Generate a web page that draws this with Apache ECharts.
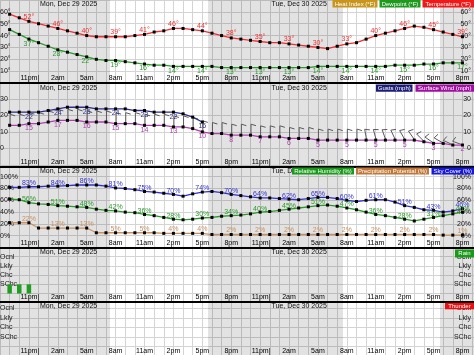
<!DOCTYPE html>
<html><head><meta charset="utf-8">
<script src="https://cdn.jsdelivr.net/npm/echarts@6/dist/echarts.min.js"></script>
<style>html,body{margin:0;padding:0;background:#fff;overflow:hidden}#c{width:474px;height:355px}</style>
</head><body><div id="c"></div>
<script>
// ---- data (hourly, 9pm Sun Dec 28 -> 8pm Tue Dec 30 2025) ----
const hours = ["9pm","10pm","11pm","12am","1am","2am","3am","4am","5am","6am","7am","8am","9am","10am","11am","12pm","1pm","2pm","3pm","4pm","5pm","6pm","7pm","8pm",
               "9pm","10pm","11pm","12am","1am","2am","3am","4am","5am","6am","7am","8am","9am","10am","11am","12pm","1pm","2pm","3pm","4pm","5pm","6pm","7pm","8pm"];
const dateHeaders = ["Mon, Dec 29 2025", "Tue, Dec 30 2025"];
const midnightIdx = [3, 27];
const nightRanges = [[-1, 10.42], [20.6, 34.6], [44.67, 48.2]];

const temperature = [58,55,52,50,48,46,44,42,40,39,39,39,39,40,41,43,44,46,46,45,44,42,40,38,
                     37,36,35,34,34,33,32,31,30,29,31,33,34,37,40,42,44,46,48,47,45,43,41,39];
const dewpoint    = [45,41,37,34,31,28,26,24,22,20,19,19,18,17,16,15,15,14,14,14,14,14,13,13,
                     13,13,13,13,13,13,13,13,14,14,14,14,14,14,14,14,15,15,15,16,16,17,17,17];
const gusts       = [22,22,22,22,23,24,25,25,25,24,24,24,24,23,23,22,22,22,21,19,16];
const surfaceWind = [14,14,15,15,16,17,17,17,16,16,16,15,15,15,14,14,14,13,13,12,10,9,9,8,
                     8,8,7,7,7,6,6,6,5,5,5,5,5,5,5,5,5,5,5,4,3,3,2,2];
const windDir     = [0,0,0,0,0,0,0,0,0,0,0,0,0,0,0,0,0,0,0,0,0,0,0,0,
                     0,0,0,0,0,0,0,0,0,0,0,0,0,350,345,340,335,330,325,315,305,300,295,290];
const skyCover    = [82,82,83,83,84,84,85,86,86,86,84,81,80,78,75,74,72,70,67,71,74,75,73,70,
                     68,66,64,64,63,62,61,63,65,65,63,60,58,60,61,61,57,51,48,44,43,40,42,46];
const relHumidity = [62,61,56,54,53,51,50,49,48,45,43,42,40,39,36,34,31,28,27,28,30,31,33,34,
                     35,37,40,41,43,45,47,49,51,52,50,47,44,40,36,34,31,28,25,28,31,34,37,40];
const precipPot   = [22,22,22,13,13,13,13,13,13,5,5,5,5,5,5,5,4,4,4,4,4,2,2,2,
                     2,2,2,2,2,2,2,2,2,2,2,2,2,2,2,2,2,2,2,2,2,1,1,1];
const rain        = [1,1,1,0,0,0,0,0,0,0,0,0,0,0,0,0,0,0,0,0,0,0,0,0,
                     0,0,0,0,0,0,0,0,0,0,0,0,0,0,0,0,0,0,0,0,0,0,0,0];
const thunder     = [0,0,0,0,0,0,0,0,0,0,0,0,0,0,0,0,0,0,0,0,0,0,0,0,
                     0,0,0,0,0,0,0,0,0,0,0,0,0,0,0,0,0,0,0,0,0,0,0,0];
const chanceLabels = ["", "SChc", "Chc", "Lkly", "Ocnl"];

// ---- layout ----
const FONT = 'Liberation Sans, Arial, sans-serif';
const chanceFmt = v => (Number.isInteger(v) && v >= 1 && v <= 4) ? chanceLabels[v] : '';
const panels = [
  {top: 0,     height: 83,   min: 0,    max: 70,   fmt: v => (v >= 10 && v <= 60 && v % 10 === 0) ? v + '°' : ''},
  {top: 83.4,  height: 83,   min: -11,  max: 39.5, fmt: v => (v >= 0 && v <= 30 && v % 10 === 0) ? String(v) : ''},
  {top: 166.7, height: 80.8, min: -20,  max: 117,  interval: 20, fmt: v => (v >= 0 && v <= 100) ? v + '%' : ''},
  {top: 247.5, height: 54.3, min: -0.9, max: 5,    fmt: chanceFmt},
  {top: 301.8, height: 53.9, min: -1,   max: 4.7,  interval: 1, fmt: chanceFmt}
];
const GRIDC = '#d4d4d4';
const BARBC = '#5a5a5a';
const xFmt = v => {
  if (!Number.isInteger(v)) return '';
  if (midnightIdx.includes(v)) return '|';
  if (v >= 0 && v < hours.length && (v - 2) % 3 === 0) return hours[v];
  return '';
};

const grid = [], xAxis = [], yAxis = [], series = [];
panels.forEach((p, g) => {
  grid.push({left: 0, right: 0, top: p.top, height: p.height, containLabel: false, outerBoundsMode: 'none'});
  xAxis.push({type: 'value', gridIndex: g, min: -1, max: 48.2, interval: 1,
    axisLine: {show: g < 4, onZero: false, lineStyle: {color: '#000', width: 2}},
    axisTick: {show: false},
    splitLine: {show: true, lineStyle: {color: GRIDC, width: 1}},
    axisLabel: {inside: true, margin: 1, fontSize: 7, color: '#000', fontFamily: FONT, formatter: xFmt, hideOverlap: false}
  });
  const yBase = {type: 'value', gridIndex: g, min: p.min, max: p.max,
    axisLine: {show: false}, axisTick: {show: false}};
  if (p.interval) yBase.interval = p.interval;
  yAxis.push(Object.assign({}, yBase, {position: 'left',
    splitLine: {show: true, lineStyle: {color: GRIDC, width: 1}},
    axisLabel: {inside: true, margin: 0, fontSize: 7, color: '#222', fontFamily: FONT, formatter: p.fmt}}));
  yAxis.push(Object.assign({}, yBase, {position: 'right',
    splitLine: {show: false},
    axisLabel: {inside: true, margin: 3, fontSize: 7, color: '#222', fontFamily: FONT, formatter: p.fmt}}));
  // night shading
  series.push({type: 'custom', xAxisIndex: g, yAxisIndex: 2 * g, data: nightRanges, silent: true, z: 1, clip: true,
    renderItem: (params, api) => {
      const a = api.coord([api.value(0), 0]);
      const b = api.coord([api.value(1), 0]);
      const cs = params.coordSys;
      return {type: 'rect', shape: {x: a[0], y: cs.y, width: b[0] - a[0], height: cs.height},
              style: {fill: 'rgba(0,0,0,0.115)'}};
    }});
});

// wind barb geometry from a pixel point and a direction
const BARB_LEN = 11;
function barbPoints(p, d) {
  if (isNaN(d)) d = 0;
  const a = d * Math.PI / 180;
  const s = [Math.sin(a), -Math.cos(a)];
  const perp = [Math.cos(a), Math.sin(a)];
  const e = [p[0] + BARB_LEN * s[0], p[1] + BARB_LEN * s[1]];
  const b = [e[0] + 5 * perp[0] - 1.5 * s[0], e[1] + 5 * perp[1] - 1.5 * s[1]];
  return [p, e, b];
}

const pts = arr => arr.map((v, i) => [i, v]);
const lbl = (color, off, suffix) => ({show: true, position: 'inside', offset: off, color: color, fontSize: 7,
  fontFamily: FONT, textBorderWidth: 0,
  formatter: p => ((p.value[0] - 2) % 3 === 0) ? p.value[1] + suffix : ''});
const lineS = (g, data, color, label) => ({type: 'line', xAxisIndex: g, yAxisIndex: 2 * g, data: pts(data),
  symbol: 'rect', symbolSize: 3, itemStyle: {color: '#000'}, lineStyle: {color: color, width: 1.3},
  label: label, z: 6, silent: true});

series.push(lineS(0, temperature, '#f03030', lbl('#f03030', [0, -4.5], '°')));
series.push(lineS(0, dewpoint, '#2a9a2a', lbl('#2a9a2a', [0, 4.5], '°')));
series.push(lineS(1, gusts, '#2e2e8e', lbl('#2e2e8e', [0, 4.5], '')));
series.push(lineS(1, surfaceWind, '#b040b0', lbl('#b040b0', [0, 4.5], '')));
series.push(lineS(2, skyCover, '#3333cc', lbl('#3333cc', [0, -3.5], '%')));
series.push(lineS(2, relHumidity, '#2a9a2a', lbl('#2a9a2a', [0, -3.5], '%')));
series.push(lineS(2, precipPot, '#c89060', lbl('#c89060', [0, -4], '%')));

series.push({type: 'bar', xAxisIndex: 3, yAxisIndex: 6, data: pts(rain), barWidth: 4.5,
  itemStyle: {color: '#1f9f1f'}, z: 3, silent: true});
series.push({type: 'bar', xAxisIndex: 4, yAxisIndex: 8, data: pts(thunder), barWidth: 4.5,
  itemStyle: {color: '#e81010'}, z: 3, silent: true});

// ---- headers & legend boxes ----
const graphic = [];
panels.forEach(p => {
  [[40, dateHeaders[0]], [271.5, dateHeaders[1]]].forEach(([x, t]) => {
    graphic.push({type: 'text', x: x, y: p.top + 4.5, z: 10,
      style: {text: t, fill: '#111', fontSize: 7, fontFamily: FONT, textVerticalAlign: 'middle', verticalAlign: 'middle'}});
  });
});
const boxes = [
  [332.5, 0, 45, 7.6, '#c8961e', 'Heat Index (°F)'],
  [379.5, 0, 41, 7.6, '#1f9a1f', 'Dewpoint (°F)'],
  [422.5, 0, 51.5, 7.6, '#f01818', 'Temperature (°F)'],
  [376, 84.4, 36.5, 7.4, '#1c1c78', 'Gusts (mph)'],
  [415.5, 84.4, 58.5, 7.4, '#a010a0', 'Surface Wind (mph)'],
  [292, 167.6, 62, 7, '#1a9a1a', 'Relative Humidity (%)'],
  [356, 167.6, 73, 7, '#c07838', 'Precipitation Potential (%)'],
  [431.5, 167.6, 42.5, 7, '#1818d8', 'Sky Cover (%)'],
  [455, 249.5, 19, 8, '#1a9a1a', 'Rain'],
  [445, 302.8, 29, 6.5, '#e81010', 'Thunder']
];
boxes.forEach(([x, y, w, h, c, t]) => {
  graphic.push({type: 'rect', z: 20, shape: {x: x, y: y, width: w, height: h}, style: {fill: c}});
  graphic.push({type: 'text', z: 21, x: x + w / 2, y: y + h / 2 + 0.3,
    style: {text: t, fill: '#fff', fontSize: 6, fontFamily: FONT, textAlign: 'center', align: 'center',
            textVerticalAlign: 'middle', verticalAlign: 'middle'}});
});

const chart = echarts.init(document.getElementById('c'), null, {renderer: 'canvas', width: 474, height: 355});
chart.setOption({
  animation: false,
  backgroundColor: '#ffffff',
  textStyle: {fontFamily: FONT},
  grid, xAxis, yAxis, series, graphic
});

// wind barbs: positions come from the library's own scales (convertToPixel)
const barbGraphics = [];
surfaceWind.forEach((v, i) => {
  const p = chart.convertToPixel({xAxisIndex: 1, yAxisIndex: 2}, [i, v]);
  if (p && !isNaN(p[0]) && !isNaN(p[1])) {
    barbGraphics.push({type: 'polyline', z: 5, silent: true,
      shape: {points: barbPoints([p[0] + 0.5, p[1]], windDir[i])},
      style: {stroke: BARBC, lineWidth: 1, fill: null}});
  }
});
chart.setOption({graphic: graphic.concat(barbGraphics)});
</script>
</body></html>
